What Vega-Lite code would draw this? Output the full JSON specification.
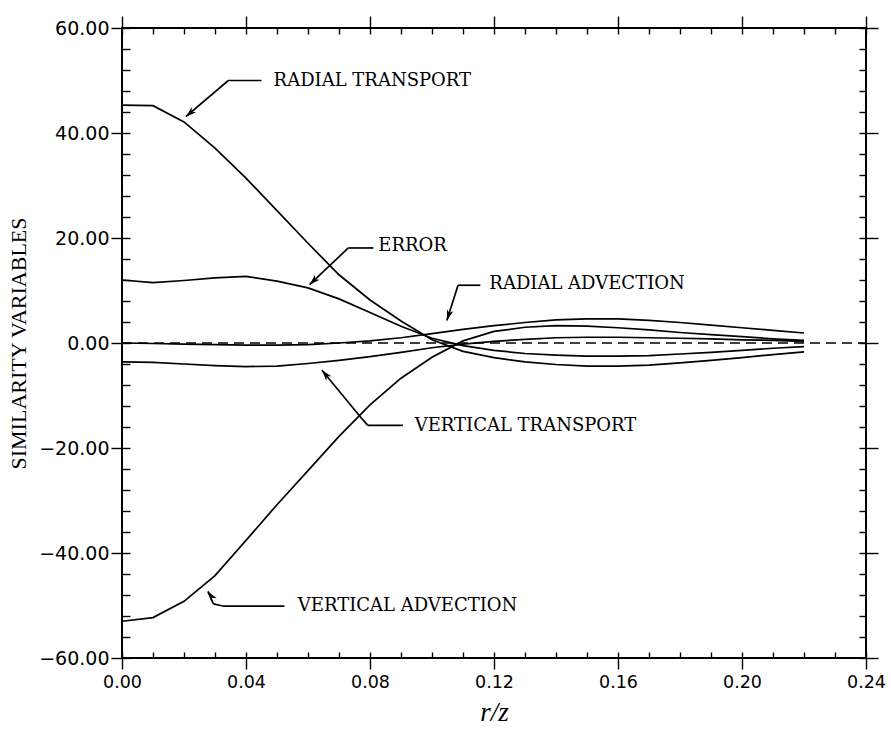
{
  "$schema": "https://vega.github.io/schema/vega-lite/v6.json",
  "width": 744,
  "height": 630,
  "autosize": {"type": "none"},
  "padding": {"left": 122, "top": 28, "right": 25, "bottom": 82},
  "background": "white",
  "config": {
    "view": {"stroke": "black", "strokeWidth": 2},
    "axis": {"grid": false, "domain": false, "tickColor": "black", "tickWidth": 1.4, "labelColor": "black", "titleColor": "black", "labelFlush": false, "labelOverlap": false}
  },
  "datasets": {
    "curves": [
      {"s":"RT","x":0.00,"v":45.3},{"s":"RT","x":0.01,"v":45.2},{"s":"RT","x":0.02,"v":42.1},{"s":"RT","x":0.03,"v":37.1},{"s":"RT","x":0.04,"v":31.4},{"s":"RT","x":0.05,"v":25.2},{"s":"RT","x":0.06,"v":19.0},{"s":"RT","x":0.07,"v":13.0},{"s":"RT","x":0.08,"v":8.2},{"s":"RT","x":0.09,"v":4.2},{"s":"RT","x":0.10,"v":0.6},{"s":"RT","x":0.11,"v":-1.6},{"s":"RT","x":0.12,"v":-2.8},{"s":"RT","x":0.13,"v":-3.6},{"s":"RT","x":0.14,"v":-4.1},{"s":"RT","x":0.15,"v":-4.4},{"s":"RT","x":0.16,"v":-4.4},{"s":"RT","x":0.17,"v":-4.2},{"s":"RT","x":0.18,"v":-3.8},{"s":"RT","x":0.19,"v":-3.3},{"s":"RT","x":0.20,"v":-2.8},{"s":"RT","x":0.21,"v":-2.2},{"s":"RT","x":0.22,"v":-1.7},
      {"s":"ER","x":0.00,"v":12.0},{"s":"ER","x":0.01,"v":11.5},{"s":"ER","x":0.02,"v":11.9},{"s":"ER","x":0.03,"v":12.4},{"s":"ER","x":0.04,"v":12.7},{"s":"ER","x":0.05,"v":11.8},{"s":"ER","x":0.06,"v":10.5},{"s":"ER","x":0.07,"v":8.4},{"s":"ER","x":0.08,"v":5.8},{"s":"ER","x":0.09,"v":3.2},{"s":"ER","x":0.10,"v":0.9},{"s":"ER","x":0.11,"v":-0.5},{"s":"ER","x":0.12,"v":-1.4},{"s":"ER","x":0.13,"v":-2.0},{"s":"ER","x":0.14,"v":-2.3},{"s":"ER","x":0.15,"v":-2.5},{"s":"ER","x":0.16,"v":-2.5},{"s":"ER","x":0.17,"v":-2.4},{"s":"ER","x":0.18,"v":-2.1},{"s":"ER","x":0.19,"v":-1.8},{"s":"ER","x":0.20,"v":-1.4},{"s":"ER","x":0.21,"v":-1.0},{"s":"ER","x":0.22,"v":-0.7},
      {"s":"RA","x":0.00,"v":0.0},{"s":"RA","x":0.01,"v":-0.1},{"s":"RA","x":0.02,"v":-0.2},{"s":"RA","x":0.03,"v":-0.3},{"s":"RA","x":0.04,"v":-0.4},{"s":"RA","x":0.05,"v":-0.4},{"s":"RA","x":0.06,"v":-0.3},{"s":"RA","x":0.07,"v":0.0},{"s":"RA","x":0.08,"v":0.4},{"s":"RA","x":0.09,"v":1.0},{"s":"RA","x":0.10,"v":1.8},{"s":"RA","x":0.11,"v":2.6},{"s":"RA","x":0.12,"v":3.3},{"s":"RA","x":0.13,"v":3.9},{"s":"RA","x":0.14,"v":4.4},{"s":"RA","x":0.15,"v":4.6},{"s":"RA","x":0.16,"v":4.6},{"s":"RA","x":0.17,"v":4.3},{"s":"RA","x":0.18,"v":3.9},{"s":"RA","x":0.19,"v":3.4},{"s":"RA","x":0.20,"v":2.9},{"s":"RA","x":0.21,"v":2.4},{"s":"RA","x":0.22,"v":1.9},
      {"s":"VT","x":0.00,"v":-3.6},{"s":"VT","x":0.01,"v":-3.7},{"s":"VT","x":0.02,"v":-4.0},{"s":"VT","x":0.03,"v":-4.3},{"s":"VT","x":0.04,"v":-4.5},{"s":"VT","x":0.05,"v":-4.4},{"s":"VT","x":0.06,"v":-3.9},{"s":"VT","x":0.07,"v":-3.3},{"s":"VT","x":0.08,"v":-2.6},{"s":"VT","x":0.09,"v":-1.8},{"s":"VT","x":0.10,"v":-0.9},{"s":"VT","x":0.11,"v":-0.2},{"s":"VT","x":0.12,"v":0.3},{"s":"VT","x":0.13,"v":0.7},{"s":"VT","x":0.14,"v":1.0},{"s":"VT","x":0.15,"v":1.1},{"s":"VT","x":0.16,"v":1.1},{"s":"VT","x":0.17,"v":1.0},{"s":"VT","x":0.18,"v":0.9},{"s":"VT","x":0.19,"v":0.8},{"s":"VT","x":0.20,"v":0.6},{"s":"VT","x":0.21,"v":0.5},{"s":"VT","x":0.22,"v":0.3},
      {"s":"VA","x":0.00,"v":-53.0},{"s":"VA","x":0.01,"v":-52.3},{"s":"VA","x":0.02,"v":-49.2},{"s":"VA","x":0.03,"v":-44.3},{"s":"VA","x":0.04,"v":-37.6},{"s":"VA","x":0.05,"v":-30.8},{"s":"VA","x":0.06,"v":-24.3},{"s":"VA","x":0.07,"v":-17.8},{"s":"VA","x":0.08,"v":-11.8},{"s":"VA","x":0.09,"v":-6.7},{"s":"VA","x":0.10,"v":-2.7},{"s":"VA","x":0.11,"v":0.4},{"s":"VA","x":0.12,"v":2.2},{"s":"VA","x":0.13,"v":3.0},{"s":"VA","x":0.14,"v":3.3},{"s":"VA","x":0.15,"v":3.2},{"s":"VA","x":0.16,"v":2.9},{"s":"VA","x":0.17,"v":2.5},{"s":"VA","x":0.18,"v":2.0},{"s":"VA","x":0.19,"v":1.6},{"s":"VA","x":0.20,"v":1.2},{"s":"VA","x":0.21,"v":0.8},{"s":"VA","x":0.22,"v":0.5}
    ],
    "notes": [
      {"label":"RADIAL TRANSPORT","x":0.0489,"y":50.0},
      {"label":"ERROR","x":0.0827,"y":18.4},
      {"label":"RADIAL ADVECTION","x":0.1185,"y":11.2},
      {"label":"VERTICAL TRANSPORT","x":0.0944,"y":-15.8},
      {"label":"VERTICAL ADVECTION","x":0.0567,"y":-50.0}
    ],
    "segs": [
      {"a":"RT","x":0.0450,"y":50.0,"x2":0.0343,"y2":50.0},
      {"a":"RT","x":0.0343,"y":50.0,"x2":0.0206,"y2":43.1},
      {"a":"ER","x":0.0811,"y":18.1,"x2":0.0730,"y2":18.1},
      {"a":"ER","x":0.0730,"y":18.1,"x2":0.0605,"y2":11.1},
      {"a":"RA","x":0.1156,"y":11.0,"x2":0.1084,"y2":11.0},
      {"a":"RA","x":0.1084,"y":11.0,"x2":0.1048,"y2":4.3},
      {"a":"VT","x":0.0906,"y":-15.7,"x2":0.0793,"y2":-15.7},
      {"a":"VT","x":0.0793,"y":-15.7,"x2":0.0778,"y2":-14.7},
      {"a":"VT","x":0.0778,"y":-14.7,"x2":0.0645,"y2":-5.2},
      {"a":"VA","x":0.0524,"y":-50.1,"x2":0.0325,"y2":-50.1},
      {"a":"VA","x":0.0325,"y":-50.1,"x2":0.0295,"y2":-49.7},
      {"a":"VA","x":0.0295,"y":-49.7,"x2":0.0277,"y2":-47.3}
    ],
    "tips": [
      {"a":"RT","x":0.0206,"y":43.1},
      {"a":"ER","x":0.0605,"y":11.1},
      {"a":"RA","x":0.1048,"y":4.3},
      {"a":"VT","x":0.0645,"y":-5.2},
      {"a":"VA","x":0.0277,"y":-47.3}
    ]
  },
  "layer": [
    {
      "data": {"name": "curves"},
      "mark": {"type": "line", "color": "black", "strokeWidth": 1.7},
      "encoding": {
        "x": {"field": "x", "type": "quantitative", "scale": {"domain": [0, 0.24], "nice": false, "zero": false},
          "axis": {"orient": "bottom", "values": [0, 0.04, 0.08, 0.12, 0.16, 0.2, 0.24], "format": ".2f", "tickSize": 11, "labelPadding": 4, "labelFont": "DejaVu Sans", "labelFontSize": 17.5, "title": "r/z", "titleFont": "Liberation Serif", "titleFontStyle": "italic", "titleFontWeight": "normal", "titleFontSize": 27, "titlePadding": 9}},
        "y": {"field": "v", "type": "quantitative", "scale": {"domain": [-60, 60], "nice": false, "zero": false},
          "axis": {"orient": "left", "values": [-60, -40, -20, 0, 20, 40, 60], "format": ".2f", "tickSize": 11, "labelPadding": 2, "labelFont": "DejaVu Sans", "labelFontSize": 19, "title": "SIMILARITY VARIABLES", "titleFont": "Liberation Serif", "titleFontWeight": "normal", "titleFontSize": 22, "titlePadding": 8}},
        "detail": {"field": "s"}
      }
    },
    {
      "data": {"values": [{"x0": 0, "x1": 0.24, "y": 0}]},
      "mark": {"type": "rule", "color": "black", "strokeWidth": 1.6, "strokeDash": [10, 6]},
      "encoding": {
        "x": {"field": "x0", "type": "quantitative", "scale": {"domain": [0, 0.24], "nice": false, "zero": false},
          "axis": {"orient": "top", "values": [0, 0.04, 0.08, 0.12, 0.16, 0.2, 0.24], "tickSize": 12, "labels": false, "title": null}},
        "x2": {"field": "x1"},
        "y": {"field": "y", "type": "quantitative", "scale": {"domain": [-60, 60], "nice": false, "zero": false},
          "axis": {"orient": "right", "values": [-60, -40, -20, 0, 20, 40, 60], "tickSize": 12, "labels": false, "title": null}}
      }
    },
    {
      "data": {"name": "notes"},
      "mark": {"type": "text", "font": "DejaVu Serif", "fontSize": 18, "align": "left", "baseline": "middle", "color": "black"},
      "encoding": {
        "x": {"field": "x", "type": "quantitative", "scale": {"domain": [0, 0.24], "nice": false, "zero": false},
          "axis": {"orient": "bottom", "values": [0, 0.01, 0.02, 0.03, 0.04, 0.05, 0.06, 0.07, 0.08, 0.09, 0.1, 0.11, 0.12, 0.13, 0.14, 0.15, 0.16, 0.17, 0.18, 0.19, 0.2, 0.21, 0.22, 0.23, 0.24], "tickSize": -6, "labels": false, "title": null}},
        "y": {"field": "y", "type": "quantitative", "scale": {"domain": [-60, 60], "nice": false, "zero": false},
          "axis": {"orient": "left", "values": [-60, -56, -52, -48, -44, -40, -36, -32, -28, -24, -20, -16, -12, -8, -4, 0, 4, 8, 12, 16, 20, 24, 28, 32, 36, 40, 44, 48, 52, 56, 60], "tickSize": -8, "labels": false, "title": null}},
        "text": {"field": "label"}
      }
    },
    {
      "data": {"name": "segs"},
      "mark": {"type": "rule", "color": "black", "strokeWidth": 1.7},
      "encoding": {
        "x": {"field": "x", "type": "quantitative", "scale": {"domain": [0, 0.24], "nice": false, "zero": false},
          "axis": {"orient": "top", "values": [0, 0.01, 0.02, 0.03, 0.04, 0.05, 0.06, 0.07, 0.08, 0.09, 0.1, 0.11, 0.12, 0.13, 0.14, 0.15, 0.16, 0.17, 0.18, 0.19, 0.2, 0.21, 0.22, 0.23, 0.24], "tickSize": -6, "labels": false, "title": null}},
        "y": {"field": "y", "type": "quantitative", "scale": {"domain": [-60, 60], "nice": false, "zero": false},
          "axis": {"orient": "right", "values": [-60, -56, -52, -48, -44, -40, -36, -32, -28, -24, -20, -16, -12, -8, -4, 0, 4, 8, 12, 16, 20, 24, 28, 32, 36, 40, 44, 48, 52, 56, 60], "tickSize": -7, "labels": false, "title": null}},
        "x2": {"field": "x2"},
        "y2": {"field": "y2"}
      }
    },
    {
      "data": {"name": "tips"},
      "transform": [{"filter": {"field": "a", "equal": "RT"}}],
      "mark": {"type": "point", "shape": "M0,0L-0.5,1.6L0,1.15L0.5,1.6Z", "angle": 229, "size": 180, "filled": true, "color": "black", "opacity": 1},
      "encoding": {
        "x": {"field": "x", "type": "quantitative", "scale": {"domain": [0, 0.24], "nice": false, "zero": false}, "axis": null},
        "y": {"field": "y", "type": "quantitative", "scale": {"domain": [-60, 60], "nice": false, "zero": false}, "axis": null}
      }
    },
    {
      "data": {"name": "tips"},
      "transform": [{"filter": {"field": "a", "equal": "ER"}}],
      "mark": {"type": "point", "shape": "M0,0L-0.5,1.6L0,1.15L0.5,1.6Z", "angle": 226, "size": 180, "filled": true, "color": "black", "opacity": 1},
      "encoding": {
        "x": {"field": "x", "type": "quantitative", "scale": {"domain": [0, 0.24], "nice": false, "zero": false}, "axis": null},
        "y": {"field": "y", "type": "quantitative", "scale": {"domain": [-60, 60], "nice": false, "zero": false}, "axis": null}
      }
    },
    {
      "data": {"name": "tips"},
      "transform": [{"filter": {"field": "a", "equal": "RA"}}],
      "mark": {"type": "point", "shape": "M0,0L-0.5,1.6L0,1.15L0.5,1.6Z", "angle": 198, "size": 180, "filled": true, "color": "black", "opacity": 1},
      "encoding": {
        "x": {"field": "x", "type": "quantitative", "scale": {"domain": [0, 0.24], "nice": false, "zero": false}, "axis": null},
        "y": {"field": "y", "type": "quantitative", "scale": {"domain": [-60, 60], "nice": false, "zero": false}, "axis": null}
      }
    },
    {
      "data": {"name": "tips"},
      "transform": [{"filter": {"field": "a", "equal": "VT"}}],
      "mark": {"type": "point", "shape": "M0,0L-0.5,1.6L0,1.15L0.5,1.6Z", "angle": 320, "size": 180, "filled": true, "color": "black", "opacity": 1},
      "encoding": {
        "x": {"field": "x", "type": "quantitative", "scale": {"domain": [0, 0.24], "nice": false, "zero": false}, "axis": null},
        "y": {"field": "y", "type": "quantitative", "scale": {"domain": [-60, 60], "nice": false, "zero": false}, "axis": null}
      }
    },
    {
      "data": {"name": "tips"},
      "transform": [{"filter": {"field": "a", "equal": "VA"}}],
      "mark": {"type": "point", "shape": "M0,0L-0.5,1.6L0,1.15L0.5,1.6Z", "angle": 325, "size": 180, "filled": true, "color": "black", "opacity": 1},
      "encoding": {
        "x": {"field": "x", "type": "quantitative", "scale": {"domain": [0, 0.24], "nice": false, "zero": false}, "axis": null},
        "y": {"field": "y", "type": "quantitative", "scale": {"domain": [-60, 60], "nice": false, "zero": false}, "axis": null}
      }
    }
  ],
  "resolve": {"axis": {"x": "independent", "y": "independent"}}
}
